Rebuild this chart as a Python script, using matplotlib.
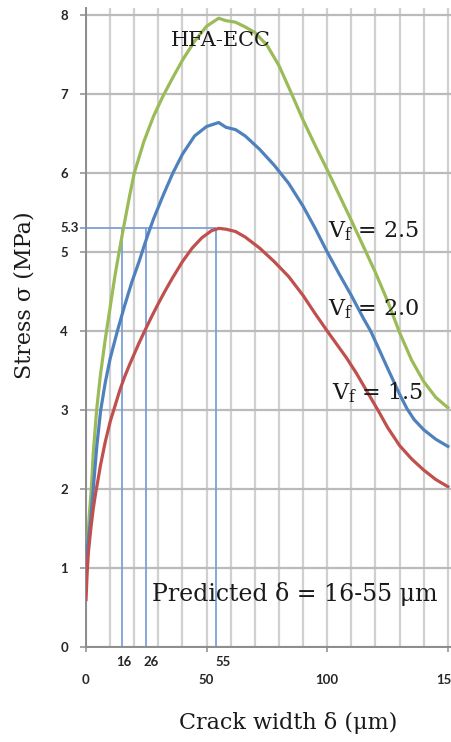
import numpy as np
import matplotlib
matplotlib.use("Agg")
import matplotlib.pyplot as plt

plt.rcParams['mathtext.fontset'] = 'dejavuserif'

# ---- data ----
crack_g = [0, 0.5, 1.2, 2.2, 3, 4.4, 6, 8, 10, 12, 14, 16, 18, 20, 24, 28, 32, 36, 40,
           45, 50, 55, 58, 62, 66, 70, 75, 80, 85, 90, 95, 100, 105, 110, 115, 120,
           125, 130, 135, 140, 145, 150]
stress_g = [0.85, 1.2, 1.6, 2.0, 2.45, 3.0, 3.45, 3.9, 4.3, 4.7, 5.05, 5.38, 5.7, 6.0,
            6.4, 6.72, 6.98, 7.21, 7.43, 7.67, 7.86, 7.96, 7.93, 7.91, 7.85, 7.78,
            7.62, 7.36, 7.02, 6.67, 6.35, 6.04, 5.72, 5.4, 5.07, 4.74, 4.38, 3.98,
            3.63, 3.36, 3.16, 3.03]

crack_b = [0, 0.5, 1.9, 3, 4.5, 6.1, 8, 10, 13, 16, 19, 22, 24, 26, 28, 32, 36, 40, 45,
           50, 55, 58, 62, 66, 72, 78, 84, 90, 95, 100, 105, 110, 115, 118, 121, 125,
           130, 133, 136, 140, 145, 150]
stress_b = [0.95, 1.25, 1.6, 2.0, 2.55, 3.0, 3.35, 3.65, 4.0, 4.32, 4.62, 4.88, 5.07,
            5.25, 5.42, 5.72, 6.0, 6.24, 6.47, 6.59, 6.64, 6.58, 6.55, 6.47, 6.3, 6.1,
            5.87, 5.58, 5.3, 5.0, 4.72, 4.45, 4.16, 4.0, 3.8, 3.53, 3.2, 3.02, 2.88,
            2.75, 2.63, 2.54]

crack_r = [0, 0.5, 1, 2, 3, 4, 5, 6, 7, 8, 10, 12, 14, 16, 18, 20, 22, 24, 27, 30, 33,
           36, 40, 44, 48, 52, 55, 58, 62, 66, 72, 78, 84, 90, 95, 100, 104, 108, 112,
           116, 121, 125, 130, 135, 140, 145, 150]
stress_r = [0.6, 0.95, 1.2, 1.5, 1.75, 1.95, 2.12, 2.3, 2.45, 2.6, 2.85, 3.05, 3.25,
            3.42, 3.57, 3.71, 3.85, 3.98, 4.17, 4.35, 4.52, 4.68, 4.88, 5.05, 5.18,
            5.27, 5.3, 5.29, 5.26, 5.19, 5.05, 4.88, 4.69, 4.45, 4.22, 4.0, 3.83, 3.66,
            3.47, 3.26, 3.0, 2.78, 2.55, 2.38, 2.24, 2.12, 2.03]

series_labels = ['V$_{\\mathrm{f}}$ = 2.5', 'V$_{\\mathrm{f}}$ = 2.0', 'V$_{\\mathrm{f}}$ = 1.5']
delta_lines = [15, 25, 54]
delta_labels = ['16', '26', '55']
stress_mark = 5.3
x_ticks = [0, 50, 100, 150]
x_tick_labels = ['0', '50', '100', '150']
y_ticks = [0, 1, 2, 3, 4, 5, 6, 7, 8]

# ---- figure ----
W, H = 451, 742
fig = plt.figure(figsize=(W / 100, H / 100), dpi=100)
ax = fig.add_axes([86 / W, 95 / H, 365 / W, 639 / H])
ax.set_xlim(0, 151.3)
ax.set_ylim(0, 8.09)

ax.set_xticks(x_ticks)
ax.set_xticklabels(x_tick_labels)
ax.set_xticks(np.arange(0, 151, 10), minor=True)
ax.set_yticks(y_ticks)
ax.set_yticklabels([str(v) for v in y_ticks])

ax.grid(which='both', axis='x', color='#d0d0d0', lw=1.6)
ax.grid(which='major', axis='y', color='#bbbbbb', lw=1.6)
ax.set_axisbelow(True)
for s in ['top', 'right']:
    ax.spines[s].set_visible(False)
for s in ['left', 'bottom']:
    ax.spines[s].set_color('#8c8c8c')
    ax.spines[s].set_linewidth(1.4)

ax.tick_params(axis='y', length=4.3, width=1.1, color='#8c8c8c', pad=8.6)
ax.tick_params(axis='x', which='major', length=3.6, width=1.1, color='#8c8c8c', pad=16)
ax.tick_params(axis='x', which='minor', length=0)
for lbl in ax.get_xticklabels() + ax.get_yticklabels():
    lbl.set_fontfamily('Lato')
    lbl.set_fontweight('bold')
    lbl.set_fontsize(9.5)
    lbl.set_color('#262626')

# reference lines
ref_color = '#7d9fd9'
ax.vlines(delta_lines, 0, stress_mark, color=ref_color, lw=1.3, zorder=1.6)
ax.hlines(stress_mark, -2.5, delta_lines[-1], color=ref_color, lw=1.3, zorder=1.6,
          clip_on=False)

for xv, lab, dx in zip(delta_lines, delta_labels, [0.5, 1.8, 3.0]):
    ax.annotate(lab, xy=(xv + dx, 0), xytext=(0, -11), textcoords='offset points',
                ha='center', va='center', family='Lato', weight='bold', size=9.5,
                color='#262626', annotation_clip=False)
ax.annotate(f'{stress_mark}', xy=(0, stress_mark), xytext=(-5, 0),
            textcoords='offset points', ha='right', va='center', family='Lato',
            weight='bold', size=9.5, color='#262626', annotation_clip=False)

# curves
ax.plot(crack_g, stress_g, color='#9bbb59', lw=2.3, solid_joinstyle='round', zorder=3)
ax.plot(crack_b, stress_b, color='#4f81bd', lw=2.3, solid_joinstyle='round', zorder=3)
ax.plot(crack_r, stress_r, color='#c0504d', lw=2.3, solid_joinstyle='round', zorder=3)

serif = 'DejaVu Serif'
ax.text(35.2, 7.61, 'HFA-ECC', family=serif, size=15, va='baseline', color='#1a1a1a')
for (tx, ty), lab in zip([(100.3, 5.19), (100.4, 4.20), (101.8, 3.13)], series_labels):
    ax.text(tx, ty, lab, family=serif, size=16, va='baseline', color='#1a1a1a')
ax.text(27.4, 0.586, 'Predicted δ = 16-55 μm', family=serif, size=17,
        va='baseline', color='#1a1a1a')

fig.text(288 / W, 1 - 723 / H, 'Crack width δ (μm)', family=serif, size=16,
         ha='center', va='center', color='#1a1a1a')
fig.text(25 / W, 1 - 295 / H, 'Stress σ (MPa)', family=serif, size=16,
         rotation=90, ha='center', va='center', color='#1a1a1a')

fig.savefig('out.png', dpi=100)
